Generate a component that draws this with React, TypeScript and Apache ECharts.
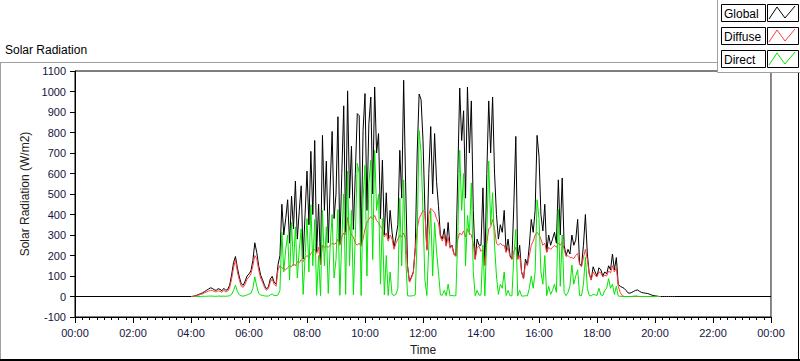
import React, { useEffect, useRef } from "react";
import * as echarts from "echarts";

// time grid: samples every 4 minutes starting at 04:00
const START_MIN = 240;
const STEP_MIN = 4;

const GLOBAL = [
  0, 1, 3, 6, 10, 14, 18, 24, 30, 36, 42, 40, 33, 30, 38,
  35, 28, 40, 30, 35, 55, 105, 165, 195, 140, 95, 62, 55, 75, 100,
  110, 125, 175, 262, 215, 150, 105, 82, 55, 38, 45, 85, 98, 70, 60,
  154, 200, 450, 300, 380, 472, 260, 490, 330, 563, 280, 420, 540, 183, 400,
  612, 350, 708, 400, 761, 217, 450, 159, 786, 420, 660, 262, 540, 805, 380,
  500, 877, 255, 600, 930, 313, 1003, 480, 733, 327, 600, 892, 882, 250, 810,
  990, 420, 843, 973, 500, 1022, 700, 795, 380, 665, 300, 506, 280, 420, 313,
  240, 290, 350, 713, 480, 1055, 554, 150, 72, 95, 120, 238, 700, 988, 960,
  761, 420, 231, 600, 829, 500, 795, 560, 443, 300, 280, 330, 250, 361, 240,
  250, 210, 200, 600, 1017, 761, 906, 480, 1022, 700, 954, 420, 183, 280, 250,
  250, 530, 154, 600, 954, 700, 973, 602, 400, 280, 350, 313, 420, 217, 280,
  200, 183, 450, 781, 183, 250, 120, 87, 183, 154, 250, 376, 313, 420, 786,
  684, 400, 320, 450, 217, 300, 250, 280, 313, 260, 569, 300, 578, 250, 200,
  230, 207, 300, 250, 275, 376, 159, 150, 250, 400, 207, 111, 82, 145, 120,
  100, 140, 130, 100, 120, 110, 150, 130, 207, 130, 190, 58, 50, 45, 40,
  30, 18, 16, 20, 25, 30, 32, 25, 20, 18, 16, 15, 12, 8, 5,
  3, 2, 0, 0, 0, 0, 0, 0, 0, 0, 0,
];

const DIFFUSE = [
  0, 0, 2, 4, 7, 10, 13, 18, 22, 26, 30, 30, 25, 22, 28,
  26, 20, 30, 22, 26, 42, 85, 140, 180, 120, 80, 50, 45, 60, 85,
  95, 110, 150, 200, 185, 130, 90, 70, 45, 30, 38, 70, 85, 60, 50,
  130, 150, 140, 135, 130, 140, 150, 145, 160, 150, 170, 165, 180, 170, 190,
  200, 190, 210, 220, 230, 210, 240, 155, 250, 240, 245, 240, 250, 260, 255,
  260, 280, 250, 290, 310, 300, 385, 330, 300, 290, 260, 250, 260, 245, 280,
  330, 360, 376, 390, 380, 395, 370, 360, 340, 330, 290, 310, 270, 300, 280,
  230, 260, 280, 300, 290, 310, 280, 145, 70, 90, 115, 230, 330, 380, 400,
  420, 410, 225, 400, 430, 420, 410, 380, 360, 290, 270, 300, 245, 290, 235,
  245, 205, 195, 280, 310, 300, 320, 290, 330, 310, 300, 260, 180, 240, 245,
  220, 230, 150, 260, 330, 340, 376, 330, 260, 250, 260, 250, 250, 215, 240,
  195, 180, 220, 240, 180, 200, 118, 85, 160, 150, 200, 250, 270, 300, 313,
  300, 280, 250, 260, 215, 240, 230, 240, 250, 240, 260, 250, 265, 230, 195,
  200, 190, 190, 185, 200, 210, 155, 145, 190, 230, 180, 108, 80, 120, 105,
  95, 120, 115, 95, 105, 100, 125, 115, 150, 120, 140, 50, 20, 5, 0,
  0, 0, 0, 0, 0, 0, 0, 0, 0, 0, 0, 0, 0, 0, 0,
  0, 0, 0, 0,
];

const DIRECT = [
  null, null, 0, 0, 0, 0, 1, 1, 1, 2, 2, 2, 1, 1, 2,
  2, 1, 2, 1, 2, 4, 10, 30, 55, 25, 8, 3, 2, 4, 8,
  12, 15, 40, 96, 50, 15, 8, 5, 3, 2, 2, 8, 12, 5, 4,
  8, 30, 313, 120, 230, 300, 80, 361, 150, 340, 90, 230, 330, 10, 190,
  380, 120, 448, 150, 376, 6, 200, 4, 420, 150, 340, 15, 250, 400, 90,
  180, 424, 6, 280, 500, 10, 612, 150, 420, 8, 300, 650, 600, 5, 472,
  640, 100, 550, 665, 180, 713, 420, 500, 60, 380, 8, 200, 5, 120, 10,
  5, 10, 40, 480, 150, 569, 200, 5, 2, 3, 4, 8, 300, 810, 700,
  400, 80, 5, 250, 420, 100, 361, 220, 120, 8, 6, 30, 4, 60, 3,
  5, 3, 4, 300, 713, 420, 600, 150, 395, 300, 554, 120, 4, 30, 6,
  8, 250, 3, 300, 660, 350, 506, 250, 100, 10, 60, 40, 120, 5, 30,
  4, 3, 200, 327, 3, 30, 2, 2, 4, 3, 40, 100, 40, 120, 472,
  380, 120, 60, 200, 4, 50, 10, 30, 60, 20, 424, 50, 300, 20, 4,
  20, 50, 154, 60, 100, 130, 5, 4, 60, 193, 40, 5, 3, 10, 8,
  5, 40, 8, 5, 30, 40, 87, 40, 60, 10, 50, 2, 1, 0, 0,
  0, 0, 0, 0, 2, 3, 2, 0, 0, 0, 0, 0, 0, 0, 0,
  0, 0, 0,
];

const DAY_START = 0;
const DAY_END = 1440;
const LEGEND_NAMES = ["Global", "Diffuse", "Direct"];
const COLORS = ["#000000", "#ff3c3c", "#00e600"];

const toPairs = (arr: (number | null)[]) =>
  arr.map((v, i) => [START_MIN + i * STEP_MIN, v]);

const fmtTime = (m: number) => {
  const h = Math.floor(m / 60) % 24;
  const mm = Math.round(m % 60);
  return `${String(h).padStart(2, "0")}:${String(mm).padStart(2, "0")}`;
};

export default function App() {
  const ref = useRef<HTMLDivElement>(null);
  useEffect(() => {
    if (!ref.current) return;
    const chart = echarts.init(ref.current, undefined, { renderer: "svg" });
    const font = "Liberation Sans";
    const legendRows = LEGEND_NAMES.map((name, k) => {
      const y0 = 4 + k * 23;
      return {
        type: "group",
        children: [
          { type: "rect", shape: { x: 721.5, y: y0 + 0.5, width: 44, height: 17 }, style: { fill: "#fff", stroke: "#000", lineWidth: 1 } },
          { type: "text", x: 724, y: y0 + 9.5, style: { text: name, font: `12px ${font}`, fill: "#000", textVerticalAlign: "middle" } },
          { type: "rect", shape: { x: 767.5, y: y0 + 0.5, width: 31, height: 17 }, style: { fill: "#fff", stroke: "#000", lineWidth: 1 } },
          { type: "polyline", shape: { points: [[769, y0 + 15], [777, y0 + 3], [785, y0 + 14], [795, y0 + 2]] }, style: { stroke: COLORS[k], lineWidth: 1, fill: "none" } },
        ],
      };
    });
    chart.setOption({
      animation: false,
      backgroundColor: "#fff",
      grid: { left: 75, top: 71, right: 29, bottom: 40, show: true, borderColor: "#000", borderWidth: 1 },
      graphic: [
        { type: "line", shape: { x1: 0, y1: 62.5, x2: 717, y2: 62.5 }, style: { stroke: "#a0a0a0", lineWidth: 1 } },
        { type: "line", shape: { x1: 0.5, y1: 62, x2: 0.5, y2: 361 }, style: { stroke: "#a0a0a0", lineWidth: 1 } },
        { type: "line", shape: { x1: 0, y1: 360, x2: 800, y2: 360 }, style: { stroke: "#000", lineWidth: 2 } },
        { type: "line", shape: { x1: 798.5, y1: 72, x2: 798.5, y2: 361 }, style: { stroke: "#000", lineWidth: 1 } },
        { type: "line", shape: { x1: 771.5, y1: 71, x2: 771.5, y2: 321 }, style: { stroke: "#909090", lineWidth: 1 } },
        { type: "rect", shape: { x: 717.5, y: -1, width: 84, height: 73.5 }, style: { fill: "#fff", stroke: "#a0a0a0", lineWidth: 1 } },
        ...legendRows,
        { type: "text", x: 5, y: 50, style: { text: "Solar Radiation", font: `12px ${font}`, fill: "#000", textVerticalAlign: "middle" } },
      ],
      xAxis: {
        type: "value",
        min: DAY_START,
        max: DAY_END,
        interval: 120,
        name: "Time",
        nameLocation: "middle",
        nameGap: 27,
        nameTextStyle: { color: "#202020", fontFamily: font, fontSize: 12 },
        axisLine: { show: true, onZero: false, lineStyle: { color: "#000", width: 1 } },
        axisTick: { show: true, length: 6, lineStyle: { color: "#000" } },
        minorTick: { show: true, splitNumber: 8, length: 3, lineStyle: { color: "#000" } },
        axisLabel: { color: "#141440", fontFamily: font, fontSize: 11, margin: 10, formatter: (v: number) => fmtTime(v) },
        splitLine: { show: false },
      },
      yAxis: {
        type: "value",
        min: -100,
        max: 1100,
        interval: 100,
        name: "Solar Radiation (W/m2)",
        nameLocation: "middle",
        nameRotate: 90,
        nameGap: 24,
        nameTextStyle: { color: "#202020", fontFamily: font, fontSize: 12 },
        axisLine: { show: true, onZero: false, lineStyle: { color: "#000", width: 1 } },
        axisTick: { show: true, length: 5, lineStyle: { color: "#000" } },
        axisLabel: { color: "#141440", fontFamily: font, fontSize: 11, margin: 9, formatter: (v: number) => String(v) },
        splitLine: { show: false },
      },
      series: [
        {
          name: "Global", type: "line", showSymbol: false, symbol: "none", silent: true,
          lineStyle: { color: COLORS[0], width: 1 },
          data: [[DAY_START, 0], ...toPairs(GLOBAL), [DAY_END, 0]],
        },
        {
          name: "Diffuse", type: "line", showSymbol: false, symbol: "none", silent: true,
          lineStyle: { color: COLORS[1], width: 1 },
          data: toPairs(DIFFUSE),
        },
        {
          name: "Direct", type: "line", showSymbol: false, symbol: "none", silent: true,
          lineStyle: { color: COLORS[2], width: 1 },
          data: toPairs(DIRECT),
        },
      ],
    });
    return () => chart.dispose();
  }, []);
  return <div ref={ref} style={{ position: "fixed", left: 0, top: 0, width: 800, height: 361 }} />;
}
